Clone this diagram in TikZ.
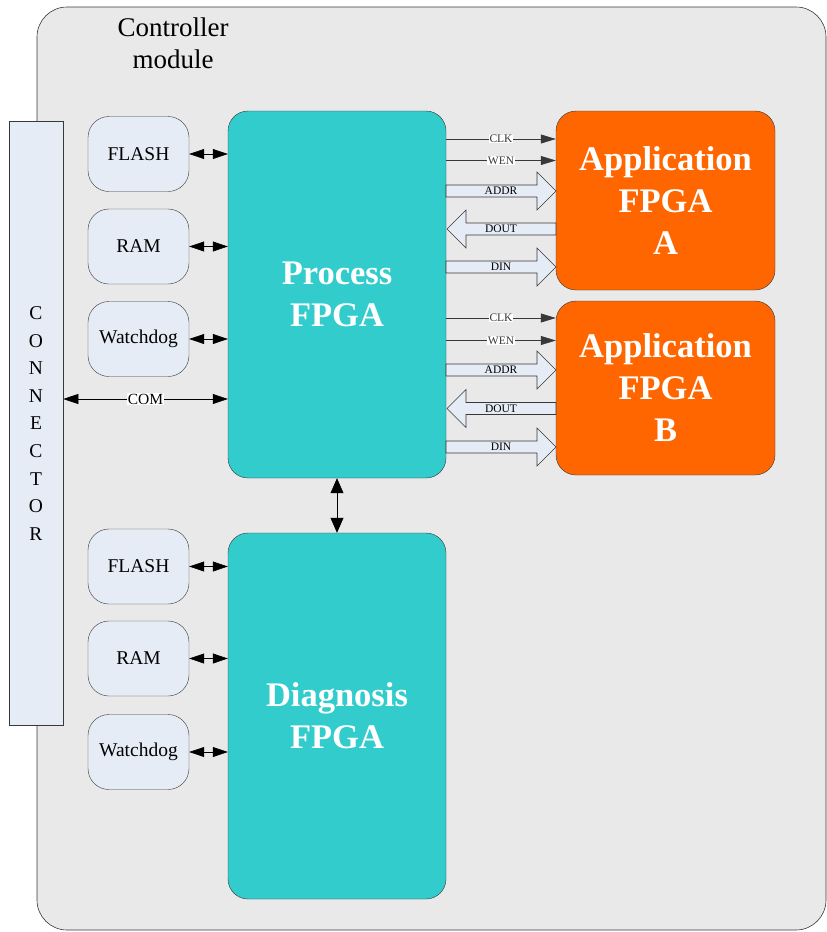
\documentclass[tikz,border=0pt]{standalone}
\usepackage{fontspec}
\setmainfont{Liberation Serif}
\usetikzlibrary{arrows.meta}

\definecolor{panelgrey}{HTML}{E9E9E9}
\definecolor{boxblue}{HTML}{E6ECF6}
\definecolor{fpgateal}{HTML}{33CCCC}
\definecolor{apporange}{HTML}{FF6600}
\definecolor{edgegrey}{HTML}{383838}

\tikzset{
  memorybox/.style={draw=edgegrey, fill=boxblue, rounded corners=21pt,
    minimum width=101pt, minimum height=75pt, inner sep=0pt,
    font=\fontsize{19.5}{21}\selectfont},
  fpgabox/.style={draw=edgegrey, rounded corners=20pt, inner sep=0pt,
    align=center, text=white,
    font=\fontsize{34.5}{42}\selectfont\bfseries},
  procfpga/.style={fpgabox, fill=fpgateal, minimum width=218pt},
  appfpga/.style={fpgabox, fill=apporange, minimum width=219pt},
  biarrow/.style={line width=0.6pt, black, {Triangle[length=15pt,width=10pt]}-{Triangle[length=15pt,width=10pt]}},
  sigline/.style={line width=0.6pt, edgegrey, -{Triangle[length=15pt,width=9pt]}},
  siglabel/.style={fill=white, inner sep=0.6pt, font=\fontsize{11.5}{12}\selectfont},
  buslabel/.style={inner sep=0pt, font=\fontsize{11.5}{12}\selectfont},
  busarrow/.style={draw=edgegrey, fill=boxblue, line width=0.6pt, line join=miter},
}

% bus arrow pointing right: #1 = centre y, from x=446 to x=556
\newcommand{\busright}[2]{%
  \draw[busarrow] (446,#1-6) -- (537,#1-6) -- (537,#1-19) -- (556,#1)
    -- (537,#1+19) -- (537,#1+6) -- (446,#1+6) -- cycle;
  \node[buslabel] (#2) at (501,#1) {};}
% bus arrow pointing left
\newcommand{\busleft}[2]{%
  \draw[busarrow] (556,#1-6) -- (466,#1-6) -- (466,#1-19) -- (447,#1)
    -- (466,#1+19) -- (466,#1+6) -- (556,#1+6) -- cycle;
  \node[buslabel] (#2) at (501,#1) {};}

\begin{document}
\begin{tikzpicture}[x=1pt,y=-1pt]
\useasboundingbox (0,0) rectangle (827,932);

% enclosing module
\draw[edgegrey, line width=0.6pt, fill=panelgrey, rounded corners=30pt] (37,7) rectangle (826,930);
\node[align=center, font=\fontsize{27}{32}\selectfont] (title) at (173,43) {Controller\\module};

% backplane connector
\node[draw=edgegrey, line width=0.6pt, fill=boxblue, minimum width=54pt, minimum height=604pt, inner sep=0pt] (conn) at (36,423) {};
\node[align=center, font=\fontsize{19.5}{27.6}\selectfont] (connlabel) at (36,423.5)
  {C\\O\\N\\N\\E\\C\\T\\O\\R};

% FPGAs
\node[procfpga, minimum height=367pt] (proc) at (337,294.5) {Process\\FPGA};
\node[procfpga, minimum height=366pt] (diag) at (337,716) {Diagnosis\\FPGA};
\node[appfpga, minimum height=179pt] (appA) at (665.5,200.5) {Application\\FPGA\\A};
\node[appfpga, minimum height=174pt] (appB) at (665.5,388) {Application\\FPGA\\B};

% memories and watchdogs
\node[memorybox] (flash1) at (138.5,154) {FLASH};
\node[memorybox] (ram1)   at (138.5,246.5) {RAM};
\node[memorybox] (wd1)    at (138.5,339) {Watchdog};
\node[memorybox] (flash2) at (138.5,566.5) {FLASH};
\node[memorybox] (ram2)   at (138.5,658.5) {RAM};
\node[memorybox] (wd2)    at (138.5,752) {Watchdog};

\foreach \m in {flash1,ram1,wd1} {
  \draw[biarrow] (\m.east) -- (\m.east -| proc.west);
}
\foreach \m in {flash2,ram2,wd2} {
  \draw[biarrow] (\m.east) -- (\m.east -| diag.west);
}

% serial link to the connector
\coordinate (comL) at (conn.east |- 0,399);
\draw[biarrow] (comL) -- (comL -| proc.west)
  node[midway, fill=white, inner sep=0.6pt, font=\fontsize{15.5}{16}\selectfont] (com) {COM};

% process <-> diagnosis
\draw[line width=0.6pt, black, {Triangle[length=15pt,width=13pt]}-{Triangle[length=15pt,width=13pt]}]
  (proc.south) -- (diag.north);

% interface to application FPGA A
\coordinate (clkA) at (proc.east |- 0,139);
\coordinate (wenA) at (proc.east |- 0,160.5);
\draw[sigline] (clkA) -- (clkA -| appA.west) node[midway, siglabel] {CLK};
\draw[sigline] (wenA) -- (wenA -| appA.west) node[midway, siglabel] {WEN};
\busright{191}{addrA}
\busleft{229}{doutA}
\busright{267}{dinA}
\node[buslabel] at (addrA) {ADDR};
\node[buslabel] at (doutA) {DOUT};
\node[buslabel] at (dinA) {DIN};

% interface to application FPGA B
\coordinate (clkB) at (proc.east |- 0,318);
\coordinate (wenB) at (proc.east |- 0,340.5);
\draw[sigline] (clkB) -- (clkB -| appB.west) node[midway, siglabel] {CLK};
\draw[sigline] (wenB) -- (wenB -| appB.west) node[midway, siglabel] {WEN};
\busright{370}{addrB}
\busleft{408.5}{doutB}
\busright{447}{dinB}
\node[buslabel] at (addrB) {ADDR};
\node[buslabel] at (doutB) {DOUT};
\node[buslabel] at (dinB) {DIN};
\end{tikzpicture}
\end{document}
